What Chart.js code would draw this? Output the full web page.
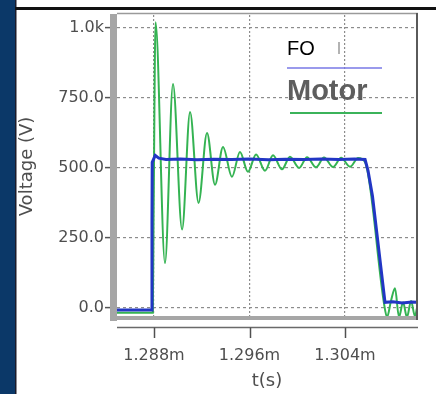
<!DOCTYPE html>
<html>
<head>
<meta charset="utf-8">
<script src="https://cdn.jsdelivr.net/npm/chart.js@4.4.1/dist/chart.umd.min.js"></script>
<style>
html,body{margin:0;padding:0;background:#fff;}
#wrap{position:relative;width:438px;height:394px;}
canvas{display:block;}
</style>
</head>
<body>
<div id="wrap"><canvas id="c" width="438" height="394"></canvas></div>
<script>
// ---- data (time in ms, voltage in V) ----
const seriesNames = ['FO', 'Motor'];
const foTime = [1.28490, 1.28779, 1.28783, 1.28785, 1.28810, 1.28840, 1.28900, 1.29020, 1.29160, 1.29300, 1.29450, 1.29600, 1.29760, 1.29900, 1.30060, 1.30200, 1.30350, 1.30480, 1.30568, 1.30593, 1.30630, 1.30735, 1.30800, 1.30880, 1.30960, 1.31003];
const foVolt = [-7, -7, 300, 520, 545, 535, 530, 532, 529, 531, 530, 532, 529, 531, 530, 532, 530, 532, 530, 490, 400, 20, 22, 18, 21, 20];
const motorTime = [1.28490, 1.28790, 1.28796, 1.28813, 1.28892, 1.28959, 1.29035, 1.29102, 1.29173, 1.29244, 1.29311, 1.29378, 1.29453, 1.29520, 1.29587, 1.29655, 1.29730, 1.29797, 1.29872, 1.29939, 1.30015, 1.30082, 1.30157, 1.30224, 1.30300, 1.30367, 1.30442, 1.30509, 1.30568, 1.30727, 1.30752, 1.30785, 1.30819, 1.30852, 1.30886, 1.30919, 1.30953, 1.30986, 1.31003];
const motorVolt = [-17, -17, 300, 1020, 160, 800, 280, 700, 375, 625, 440, 575, 468, 557, 486, 548, 490, 545, 495, 540, 500, 538, 502, 537, 503, 536, 504, 535, 520, 15, -33, 25, 70, -33, 20, -33, 25, -30, 0];
const xTickValues = [1.288, 1.296, 1.304];
const xTickLabels = ['1.288m', '1.296m', '1.304m'];
const yTickValues = [0, 250, 500, 750, 1000];
const yTickLabels = ['0.0', '250.0', '500.0', '750.0', '1.0k'];
const xRange = [1.28490, 1.31003];
const yRange = [-36, 1046];
const xTitle = 't(s)';
const yTitle = 'Voltage (V)';

const toPts = (t, v) => t.map((x, i) => ({x: x, y: v[i]}));

const decor = {
  id: 'decor',
  beforeDraw(chart) {
    const ctx = chart.ctx;
    ctx.save();
    ctx.fillStyle = '#ffffff';
    ctx.fillRect(0, 0, 438, 394);
    ctx.fillStyle = '#0b3868';
    ctx.fillRect(0, 0, 15, 394);
    ctx.fillStyle = '#1b1b2a';
    ctx.fillRect(15, 0, 1.5, 394);
    ctx.fillStyle = '#111111';
    ctx.fillRect(15, 7, 421, 3);
    ctx.restore();
  },
  afterDatasetsDraw(chart) {
    const ctx = chart.ctx;
    const a = chart.chartArea;
    const xs = chart.scales.x;
    ctx.save();
    // frame
    ctx.fillStyle = '#a6a6a6';
    ctx.fillRect(a.left - 7, a.top - 1, 7, a.bottom - a.top + 4);
    ctx.fillRect(a.left - 7, a.bottom - 2, a.right - a.left + 8, 4);
    ctx.strokeStyle = '#9a9a9a';
    ctx.lineWidth = 1.5;
    ctx.beginPath();
    ctx.moveTo(a.left, a.top - 1.5); ctx.lineTo(a.right + 1, a.top - 1.5);
    ctx.stroke();
    ctx.strokeStyle = '#5a5a5a';
    ctx.lineWidth = 2;
    ctx.beginPath();
    ctx.moveTo(a.right, a.top - 2); ctx.lineTo(a.right, a.bottom + 2);
    ctx.stroke();
    // separate x axis line with ticks
    ctx.strokeStyle = '#6a6a6a';
    ctx.lineWidth = 1.5;
    ctx.beginPath();
    ctx.moveTo(a.left, a.bottom + 9.5); ctx.lineTo(a.right + 1, a.bottom + 9.5);
    ctx.stroke();
    ctx.strokeStyle = '#505050';
    xTickValues.forEach(v => {
      const px = Math.round(xs.getPixelForValue(v)) + 0.5;
      ctx.beginPath();
      ctx.moveTo(px, a.bottom + 9.5); ctx.lineTo(px, a.bottom + 20);
      ctx.stroke();
    });
    // legend
    ctx.fillStyle = '#ffffff';
    ctx.fillRect(283, 33, 56, 27);
    ctx.fillStyle = '#000000';
    ctx.font = '20px "Liberation Sans", Arial, sans-serif';
    ctx.textBaseline = 'alphabetic';
    ctx.fillText(seriesNames[0], 287, 54.5);
    ctx.strokeStyle = '#9a9a9a';
    ctx.lineWidth = 1.5;
    ctx.beginPath(); ctx.moveTo(339, 42); ctx.lineTo(339, 54); ctx.stroke();
    ctx.strokeStyle = '#7878e6';
    ctx.lineWidth = 1.5;
    ctx.beginPath(); ctx.moveTo(287, 68); ctx.lineTo(382, 68); ctx.stroke();
    ctx.fillStyle = '#5e5e5e';
    ctx.font = 'bold 29px "Liberation Sans", Arial, sans-serif';
    ctx.fillText(seriesNames[1], 287, 99.5);
    ctx.strokeStyle = '#3bb35a';
    ctx.lineWidth = 2;
    ctx.beginPath(); ctx.moveTo(290, 113); ctx.lineTo(382, 113); ctx.stroke();
    ctx.restore();
  }
};

new Chart(document.getElementById('c'), {
  type: 'line',
  data: {
    datasets: [
      {
        label: seriesNames[1],
        data: toPts(motorTime, motorVolt),
        borderColor: '#34b352',
        borderWidth: 2,
        pointRadius: 0,
        cubicInterpolationMode: 'monotone',
        order: 2
      },
      {
        label: seriesNames[0],
        data: toPts(foTime, foVolt),
        borderColor: '#2236c4',
        borderWidth: 3,
        pointRadius: 0,
        tension: 0,
        order: 1
      }
    ]
  },
  options: {
    responsive: false,
    animation: false,
    devicePixelRatio: 1,
    layout: {padding: {left: 0, top: 15, right: 21, bottom: 0}},
    plugins: {legend: {display: false}, tooltip: {enabled: false}},
    scales: {
      x: {
        type: 'linear',
        min: xRange[0],
        max: xRange[1],
        afterFit(s) { s.height = 76; },
        afterBuildTicks(s) { s.ticks = xTickValues.map(v => ({value: v})); },
        border: {display: false, dash: [2, 2]},
        grid: {color: '#8c8c8c', lineWidth: 1.2, drawTicks: false},
        ticks: {
          autoSkip: false, maxRotation: 0, padding: 28,
          color: '#4e4e4e',
          font: {family: '"DejaVu Sans", sans-serif', size: 16},
          callback: (v) => { const i = xTickValues.findIndex(t => Math.abs(t - v) < 1e-7); return i >= 0 ? xTickLabels[i] : ''; }
        },
        title: {display: true, text: xTitle, color: '#4e4e4e', font: {family: '"DejaVu Sans", sans-serif', size: 18}, padding: {top: 0, bottom: 2}}
      },
      y: {
        type: 'linear',
        min: yRange[0],
        max: yRange[1],
        afterFit(s) { s.width = 117; },
        afterBuildTicks(s) { s.ticks = yTickValues.map(v => ({value: v})); },
        border: {display: false, dash: [3, 3]},
        grid: {color: '#8c8c8c', lineWidth: 1.2, drawTicks: true, tickLength: 12, tickColor: '#555555', tickBorderDash: [], tickWidth: 1.5},
        ticks: {
          autoSkip: false, padding: 1,
          color: '#4e4e4e',
          font: {family: '"DejaVu Sans", sans-serif', size: 16},
          callback: (v) => { const i = yTickValues.indexOf(v); return i >= 0 ? yTickLabels[i] : ''; }
        },
        title: {display: true, text: yTitle, color: '#4e4e4e', font: {family: '"DejaVu Sans", sans-serif', size: 18}, padding: {top: 17, bottom: 0}}
      }
    }
  },
  plugins: [decor]
});
</script>
</body>
</html>
